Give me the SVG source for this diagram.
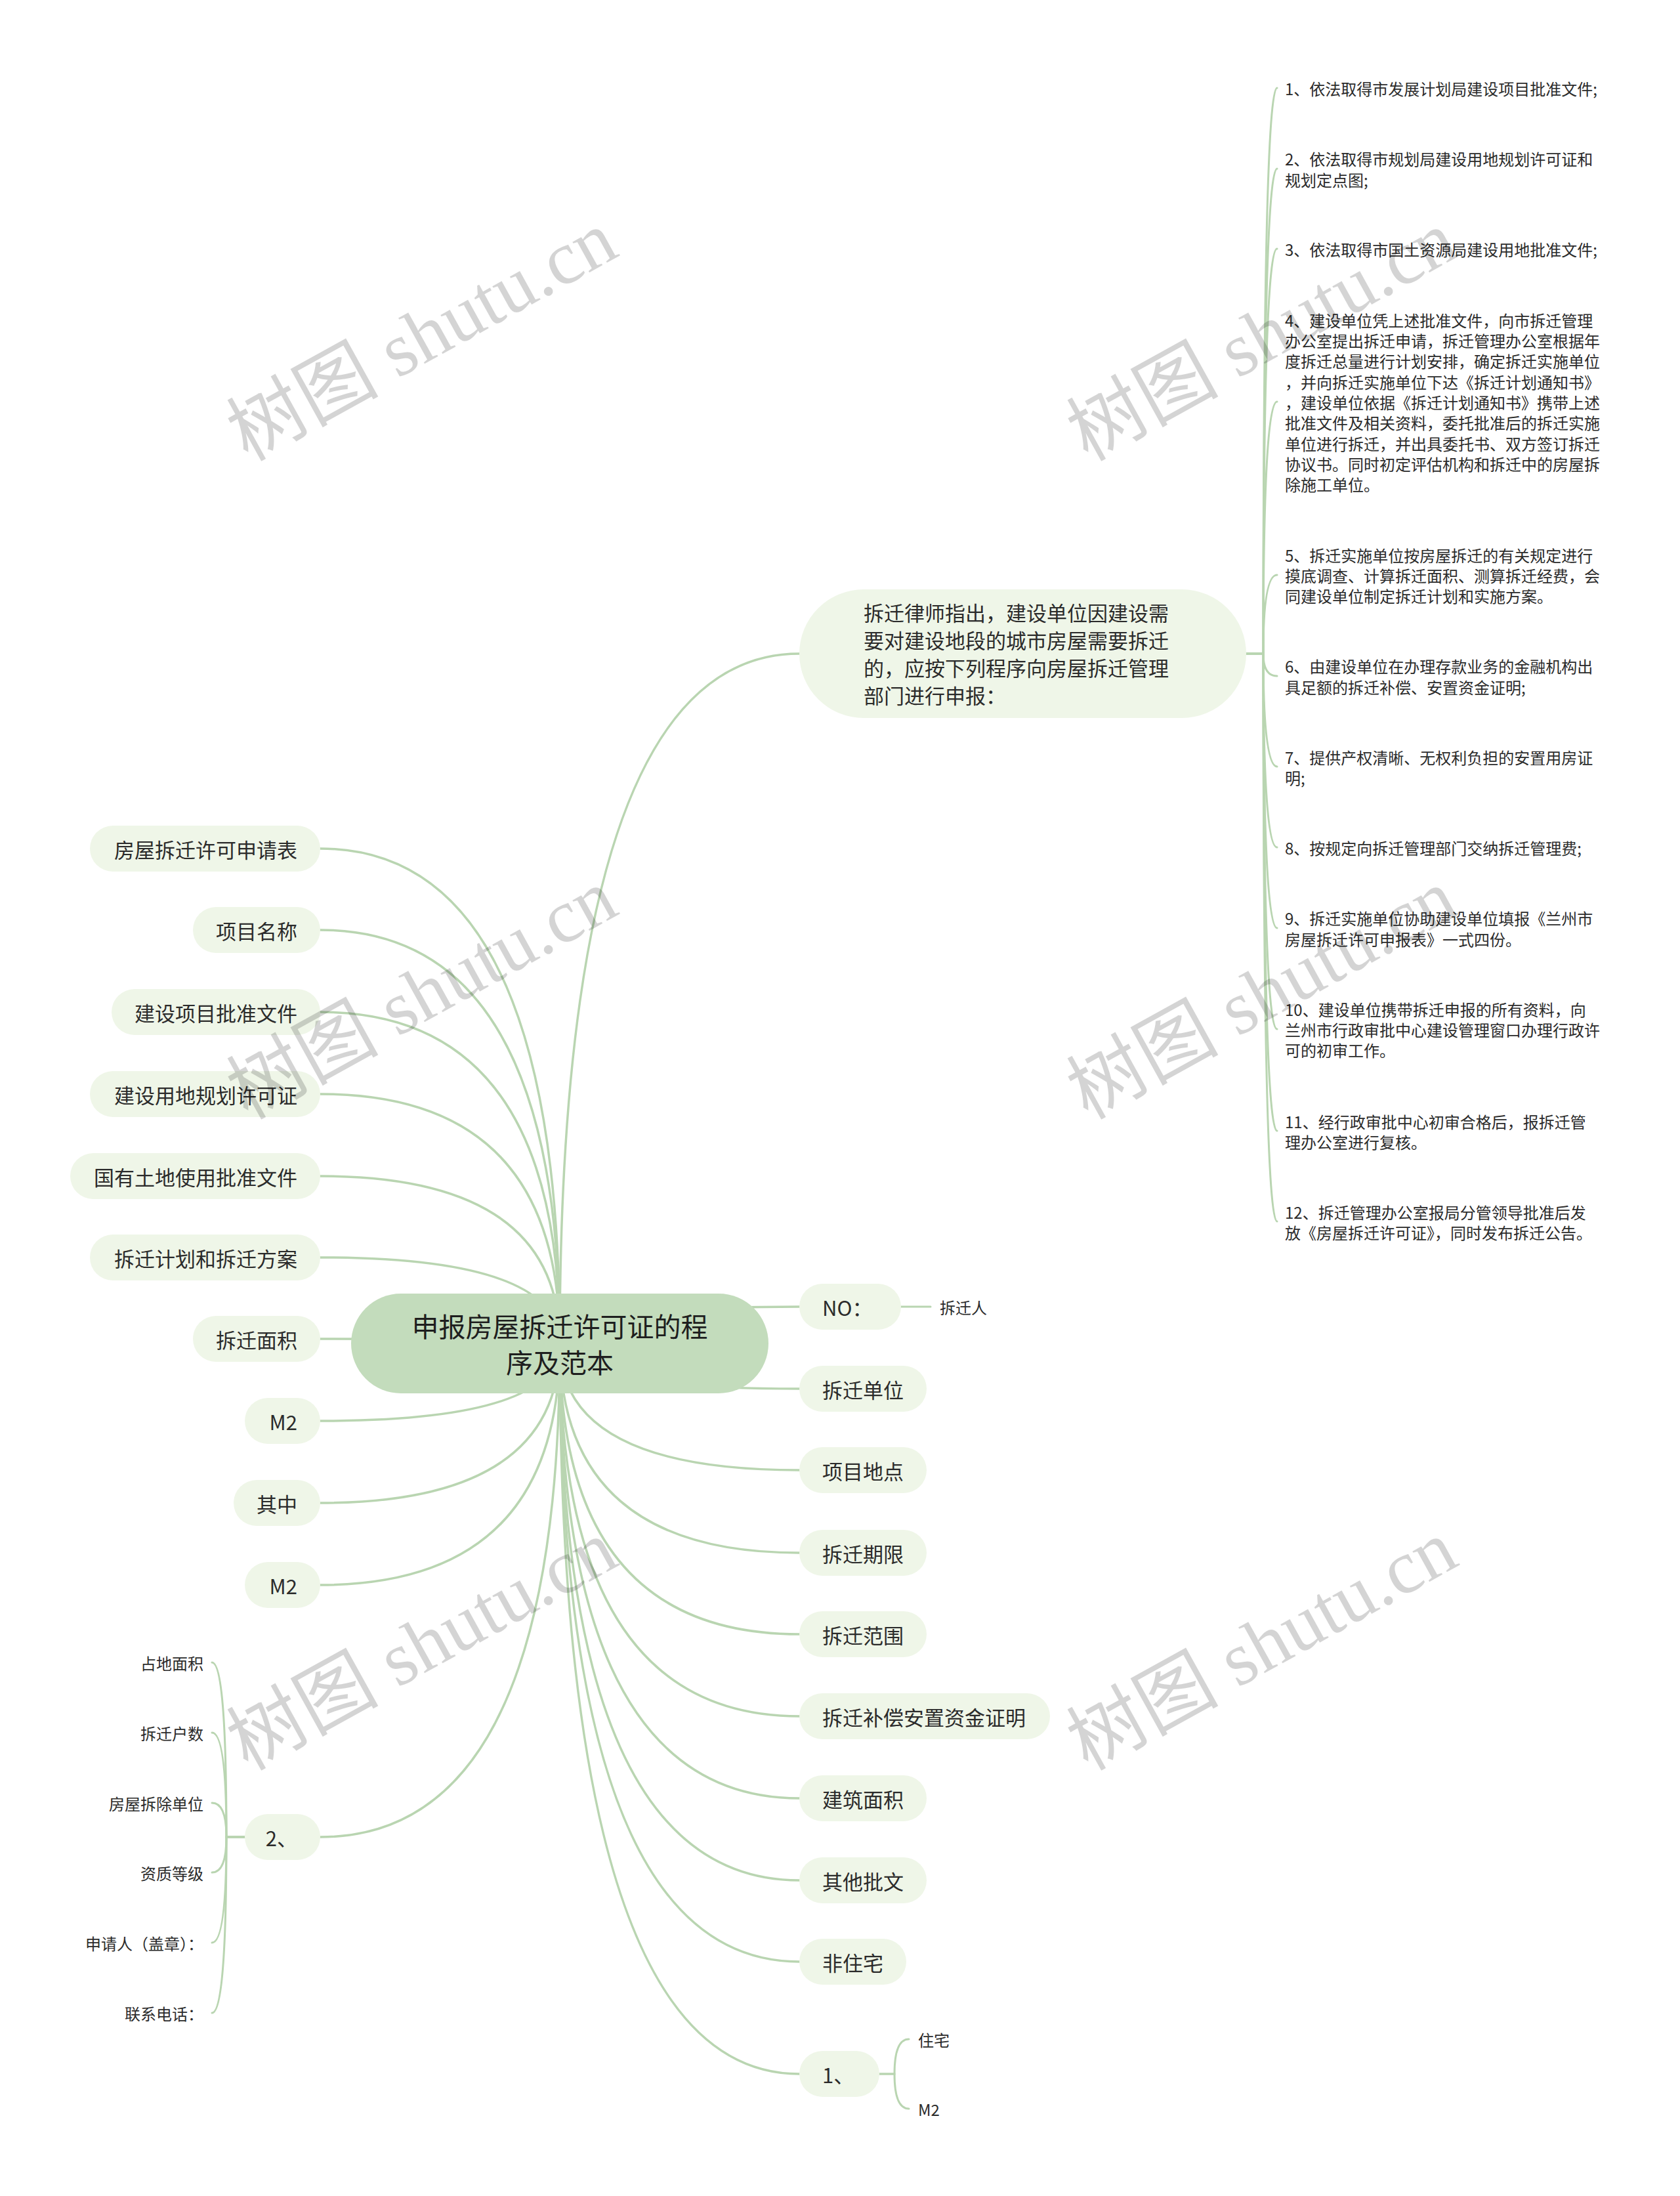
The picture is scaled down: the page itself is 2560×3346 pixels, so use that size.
<svg xmlns="http://www.w3.org/2000/svg" width="2560" height="3346" viewBox="0 0 2560 3346">
<style>
.c{fill:none;stroke:#b9d5b1;stroke-width:3.5;stroke-linecap:round}
.l{fill:none;stroke:#b9d5b1;stroke-width:3;stroke-linecap:round}
.p{fill:#eff6e8}
.t{font-family:"Noto Sans CJK SC","Noto Sans",sans-serif;fill:#2b2b2b;dominant-baseline:central}
.pt{font-size:31px}
.lt{font-size:24px}
.ct{font-size:41px;fill:#1e1e1e;text-anchor:middle}
.e{text-anchor:end}
.wm{font-family:"Liberation Serif","Noto Sans CJK SC",serif;font-size:116px;fill:#000;fill-opacity:0.17;text-anchor:middle;dominant-baseline:central}
</style>
<rect width="2560" height="3346" fill="#ffffff"/>
<g id="connectors">
<path class="c" d="M853 2047 Q853 996 1218 996"/>
<path class="c" d="M853 2047 Q853 1293 488 1293"/>
<path class="c" d="M853 2047 Q853 1417 488 1417"/>
<path class="c" d="M853 2047 Q853 1542 488 1542"/>
<path class="c" d="M853 2047 Q853 1667 488 1667"/>
<path class="c" d="M853 2047 Q853 1792 488 1792"/>
<path class="c" d="M853 2047 Q853 1916 488 1916"/>
<path class="c" d="M853 2047 Q853 2040 488 2040"/>
<path class="c" d="M853 2047 Q853 2165 488 2165"/>
<path class="c" d="M853 2047 Q853 2290 488 2290"/>
<path class="c" d="M853 2047 Q853 2415 488 2415"/>
<path class="c" d="M853 2047 Q853 2799 488 2799"/>
<path class="c" d="M853 2047 Q853 1991 1218 1991"/>
<path class="c" d="M853 2047 Q853 2116 1218 2116"/>
<path class="c" d="M853 2047 Q853 2240 1218 2240"/>
<path class="c" d="M853 2047 Q853 2366 1218 2366"/>
<path class="c" d="M853 2047 Q853 2490 1218 2490"/>
<path class="c" d="M853 2047 Q853 2615 1218 2615"/>
<path class="c" d="M853 2047 Q853 2740 1218 2740"/>
<path class="c" d="M853 2047 Q853 2865 1218 2865"/>
<path class="c" d="M853 2047 Q853 2989 1218 2989"/>
<path class="c" d="M853 2047 Q853 3160 1218 3160"/>
<path class="l" d="M1899 996 H1925 Q1925 134 1946 134"/>
<path class="l" d="M1899 996 H1925 Q1925 257 1946 257"/>
<path class="l" d="M1899 996 H1925 Q1925 379 1946 379"/>
<path class="l" d="M1899 996 H1925 Q1925 612 1946 612"/>
<path class="l" d="M1899 996 H1925 Q1925 876 1946 876"/>
<path class="l" d="M1899 996 H1925 Q1925 1030 1946 1030"/>
<path class="l" d="M1899 996 H1925 Q1925 1168 1946 1168"/>
<path class="l" d="M1899 996 H1925 Q1925 1291 1946 1291"/>
<path class="l" d="M1899 996 H1925 Q1925 1414 1946 1414"/>
<path class="l" d="M1899 996 H1925 Q1925 1568 1946 1568"/>
<path class="l" d="M1899 996 H1925 Q1925 1723 1946 1723"/>
<path class="l" d="M1899 996 H1925 Q1925 1861 1946 1861"/>
<path class="l" d="M1373 1991 H1418"/>
<path class="l" d="M373 2799 H345 Q345 2533 323 2533"/>
<path class="l" d="M373 2799 H345 Q345 2640 323 2640"/>
<path class="l" d="M373 2799 H345 Q345 2747 323 2747"/>
<path class="l" d="M373 2799 H345 Q345 2853 323 2853"/>
<path class="l" d="M373 2799 H345 Q345 2960 323 2960"/>
<path class="l" d="M373 2799 H345 Q345 3067 323 3067"/>
<path class="l" d="M1340 3160 H1363 Q1363 3107 1385 3107"/>
<path class="l" d="M1340 3160 H1363 Q1363 3213 1385 3213"/>
</g>
<g id="root">
<rect x="535" y="1971" width="636" height="152" rx="76" fill="#c3dcbc"/>
<text class="t ct" x="853" y="2019">申报房屋拆迁许可证的程</text>
<text class="t ct" x="853" y="2074">序及范本</text>
</g>
<g id="n-lawyer">
<rect class="p" x="1218" y="898" width="681" height="196" rx="98"/>
<text class="t pt" x="1316" y="932">拆迁律师指出，建设单位因建设需</text>
<text class="t pt" x="1316" y="974">要对建设地段的城市房屋需要拆迁</text>
<text class="t pt" x="1316" y="1016">的，应按下列程序向房屋拆迁管理</text>
<text class="t pt" x="1316" y="1058">部门进行申报：</text>
</g>
<g id="steps">
<g id="s1"><text class="t lt" x="1958" y="134">1、依法取得市发展计划局建设项目批准文件;</text></g>
<g id="s2"><text class="t lt" x="1958" y="241">2、依法取得市规划局建设用地规划许可证和</text><text class="t lt" x="1958" y="273">规划定点图;</text></g>
<g id="s3"><text class="t lt" x="1958" y="379">3、依法取得市国土资源局建设用地批准文件;</text></g>
<g id="s4">
<text class="t lt" x="1958" y="487">4、建设单位凭上述批准文件，向市拆迁管理</text>
<text class="t lt" x="1958" y="518">办公室提出拆迁申请，拆迁管理办公室根据年</text>
<text class="t lt" x="1958" y="549">度拆迁总量进行计划安排，确定拆迁实施单位</text>
<text class="t lt" x="1958" y="581">，并向拆迁实施单位下达《拆迁计划通知书》</text>
<text class="t lt" x="1958" y="612">，建设单位依据《拆迁计划通知书》携带上述</text>
<text class="t lt" x="1958" y="643">批准文件及相关资料，委托批准后的拆迁实施</text>
<text class="t lt" x="1958" y="675">单位进行拆迁，并出具委托书、双方签订拆迁</text>
<text class="t lt" x="1958" y="706">协议书。同时初定评估机构和拆迁中的房屋拆</text>
<text class="t lt" x="1958" y="737">除施工单位。</text>
</g>
<g id="s5"><text class="t lt" x="1958" y="845">5、拆迁实施单位按房屋拆迁的有关规定进行</text><text class="t lt" x="1958" y="876">摸底调查、计算拆迁面积、测算拆迁经费，会</text><text class="t lt" x="1958" y="907">同建设单位制定拆迁计划和实施方案。</text></g>
<g id="s6"><text class="t lt" x="1958" y="1014">6、由建设单位在办理存款业务的金融机构出</text><text class="t lt" x="1958" y="1046">具足额的拆迁补偿、安置资金证明;</text></g>
<g id="s7"><text class="t lt" x="1958" y="1153">7、提供产权清晰、无权利负担的安置用房证</text><text class="t lt" x="1958" y="1184">明;</text></g>
<g id="s8"><text class="t lt" x="1958" y="1291">8、按规定向拆迁管理部门交纳拆迁管理费;</text></g>
<g id="s9"><text class="t lt" x="1958" y="1398">9、拆迁实施单位协助建设单位填报《兰州市</text><text class="t lt" x="1958" y="1430">房屋拆迁许可申报表》一式四份。</text></g>
<g id="s10"><text class="t lt" x="1958" y="1537">10、建设单位携带拆迁申报的所有资料，向</text><text class="t lt" x="1958" y="1568">兰州市行政审批中心建设管理窗口办理行政许</text><text class="t lt" x="1958" y="1599">可的初审工作。</text></g>
<g id="s11"><text class="t lt" x="1958" y="1708">11、经行政审批中心初审合格后，报拆迁管</text><text class="t lt" x="1958" y="1739">理办公室进行复核。</text></g>
<g id="s12"><text class="t lt" x="1958" y="1846">12、拆迁管理办公室报局分管领导批准后发</text><text class="t lt" x="1958" y="1877">放《房屋拆迁许可证》，同时发布拆迁公告。</text></g>
</g>
<g id="left-nodes">
<g id="l1"><rect class="p" x="137" y="1258" width="351" height="70" rx="35"/><text class="t pt e" x="453" y="1293">房屋拆迁许可申请表</text></g>
<g id="l2"><rect class="p" x="294" y="1382" width="194" height="70" rx="35"/><text class="t pt e" x="453" y="1417">项目名称</text></g>
<g id="l3"><rect class="p" x="170" y="1507" width="318" height="70" rx="35"/><text class="t pt e" x="453" y="1542">建设项目批准文件</text></g>
<g id="l4"><rect class="p" x="137" y="1632" width="351" height="70" rx="35"/><text class="t pt e" x="453" y="1667">建设用地规划许可证</text></g>
<g id="l5"><rect class="p" x="107" y="1757" width="381" height="70" rx="35"/><text class="t pt e" x="453" y="1792">国有土地使用批准文件</text></g>
<g id="l6"><rect class="p" x="137" y="1881" width="351" height="70" rx="35"/><text class="t pt e" x="453" y="1916">拆迁计划和拆迁方案</text></g>
<g id="l7"><rect class="p" x="294" y="2005" width="194" height="70" rx="35"/><text class="t pt e" x="453" y="2040">拆迁面积</text></g>
<g id="l8"><rect class="p" x="373" y="2130" width="115" height="70" rx="35"/><text class="t pt e" x="453" y="2165">M2</text></g>
<g id="l9"><rect class="p" x="356" y="2255" width="132" height="70" rx="35"/><text class="t pt e" x="453" y="2290">其中</text></g>
<g id="l10"><rect class="p" x="373" y="2380" width="115" height="70" rx="35"/><text class="t pt e" x="453" y="2415">M2</text></g>
<g id="l11"><rect class="p" x="373" y="2764" width="115" height="70" rx="35"/><text class="t pt e" x="453" y="2799">2、</text></g>
</g>
<g id="l11-children">
<text class="t lt e" x="310" y="2533">占地面积</text>
<text class="t lt e" x="310" y="2640">拆迁户数</text>
<text class="t lt e" x="310" y="2747">房屋拆除单位</text>
<text class="t lt e" x="310" y="2853">资质等级</text>
<text class="t lt e" x="310" y="2960">申请人（盖章）：</text>
<text class="t lt e" x="310" y="3067">联系电话：</text>
</g>
<g id="right-nodes">
<g id="r1"><rect class="p" x="1218" y="1956" width="155" height="70" rx="35"/><text class="t pt" x="1253" y="1991">NO：</text></g>
<g id="r2"><rect class="p" x="1218" y="2081" width="194" height="70" rx="35"/><text class="t pt" x="1253" y="2116">拆迁单位</text></g>
<g id="r3"><rect class="p" x="1218" y="2205" width="194" height="70" rx="35"/><text class="t pt" x="1253" y="2240">项目地点</text></g>
<g id="r4"><rect class="p" x="1218" y="2331" width="194" height="70" rx="35"/><text class="t pt" x="1253" y="2366">拆迁期限</text></g>
<g id="r5"><rect class="p" x="1218" y="2455" width="194" height="70" rx="35"/><text class="t pt" x="1253" y="2490">拆迁范围</text></g>
<g id="r6"><rect class="p" x="1218" y="2580" width="382" height="70" rx="35"/><text class="t pt" x="1253" y="2615">拆迁补偿安置资金证明</text></g>
<g id="r7"><rect class="p" x="1218" y="2705" width="194" height="70" rx="35"/><text class="t pt" x="1253" y="2740">建筑面积</text></g>
<g id="r8"><rect class="p" x="1218" y="2830" width="194" height="70" rx="35"/><text class="t pt" x="1253" y="2865">其他批文</text></g>
<g id="r9"><rect class="p" x="1218" y="2954" width="163" height="70" rx="35"/><text class="t pt" x="1253" y="2989">非住宅</text></g>
<g id="r10"><rect class="p" x="1218" y="3125" width="122" height="70" rx="35"/><text class="t pt" x="1253" y="3160">1、</text></g>
</g>
<g id="leaf-right">
<text class="t lt" x="1432" y="1991">拆迁人</text>
<text class="t lt" x="1399" y="3107">住宅</text>
<text class="t lt" x="1399" y="3213">M2</text>
</g>
<g id="watermarks">
<text class="wm" transform="translate(643 512) rotate(-29)">树图 shutu.cn</text>
<text class="wm" transform="translate(1923 512) rotate(-29)">树图 shutu.cn</text>
<text class="wm" transform="translate(643 1515) rotate(-29)">树图 shutu.cn</text>
<text class="wm" transform="translate(1923 1515) rotate(-29)">树图 shutu.cn</text>
<text class="wm" transform="translate(643 2507) rotate(-29)">树图 shutu.cn</text>
<text class="wm" transform="translate(1923 2507) rotate(-29)">树图 shutu.cn</text>
<text class="wm" transform="translate(643 3510) rotate(-29)">树图 shutu.cn</text>
<text class="wm" transform="translate(1923 3510) rotate(-29)">树图 shutu.cn</text>
</g>
</svg>
